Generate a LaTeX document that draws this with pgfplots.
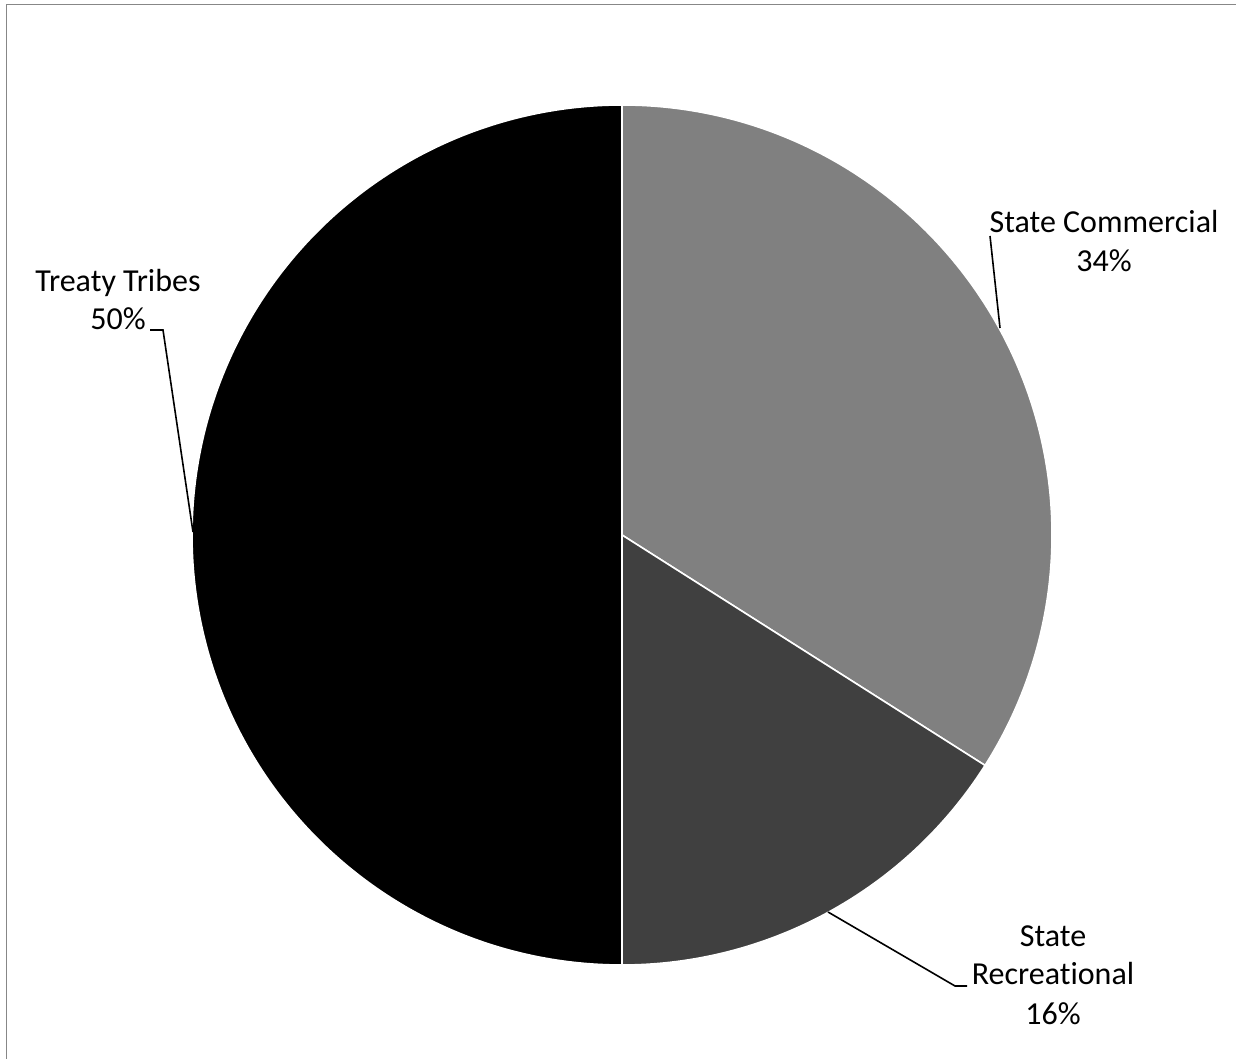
\documentclass[border=0pt]{standalone}
\usepackage{pgfplots}
\usepackage{pgfplotstable}
\pgfplotsset{compat=1.18}
\usepackage{fontspec}
\setmainfont{Carlito}[Ligatures=NoCommon]
\definecolor{cCom}{HTML}{808080}
\definecolor{cRec}{HTML}{404040}
\definecolor{cTri}{HTML}{000000}
\definecolor{frame}{HTML}{878787}

% share of the catch (percent), in drawing order, clockwise from 12 o'clock
\pgfplotstableread{
name value
Commercial 34
Recreational 16
Tribes 50
}\piedata

\begin{document}
\begin{tikzpicture}
\begin{axis}[
  x=0.5pt, y=0.5pt,
  xmin=0, xmax=1236, ymin=0, ymax=1059,
  hide axis, clip=false,
]
\pgfplotstablegetelem{0}{value}\of\piedata \let\vA\pgfplotsretval
\pgfplotstablegetelem{1}{value}\of\piedata \let\vB\pgfplotsretval
\pgfplotstablegetelem{2}{value}\of\piedata \let\vC\pgfplotsretval
\pgfmathsetmacro{\aA}{90}
\pgfmathsetmacro{\aB}{\aA-3.6*\vA}
\pgfmathsetmacro{\aC}{\aB-3.6*\vB}
\pgfmathsetmacro{\aD}{\aC-3.6*\vC}
\def\R{215pt}
\coordinate (bl) at (axis cs:0,0);
\coordinate (tr) at (axis cs:1236,1059);
\coordinate (O) at (axis cs:622,524);
% frame
\draw[frame, line width=0.85pt] (axis cs:6.5,-20) -- (axis cs:6.5,1054.5) -- (axis cs:1260,1054.5);
% slices
\filldraw[fill=cTri, draw=white, line width=0.8pt] (O) -- ++(\aC:\R) arc[start angle=\aC, end angle=\aD, radius=\R] -- cycle;
\filldraw[fill=cCom, draw=white, line width=0.8pt] (O) -- ++(\aA:\R) arc[start angle=\aA, end angle=\aB, radius=\R] -- cycle;
\filldraw[fill=cRec, draw=white, line width=0.8pt] (O) -- ++(\aB:\R) arc[start angle=\aB, end angle=\aC, radius=\R] -- cycle;
% leader lines
\draw[black, line width=0.8pt] (axis cs:990,823) -- (axis cs:1000,731);
\draw[black, line width=0.8pt] (axis cs:150,729) -- (axis cs:163,729) -- (axis cs:193,527);
\draw[black, line width=0.8pt] (axis cs:828,147) -- (axis cs:955,73) -- (axis cs:967,73);
% labels
\tikzset{lbl/.style={anchor=base, inner sep=0pt, font=\fontsize{16}{19.5}\selectfont}}
\node[lbl] at (axis cs:1104,826) {State Commercial};
\node[lbl] at (axis cs:1104,787) {34\%};
\node[lbl] at (axis cs:118,767) {Treaty Tribes};
\node[lbl] at (axis cs:118,729) {50\%};
\node[lbl] at (axis cs:1053,112) {State};
\node[lbl] at (axis cs:1053,74) {Recreational};
\node[lbl] at (axis cs:1053,34) {16\%};
\end{axis}
\pgfresetboundingbox
\path[use as bounding box] (bl) rectangle (tr);
\end{tikzpicture}
\end{document}
